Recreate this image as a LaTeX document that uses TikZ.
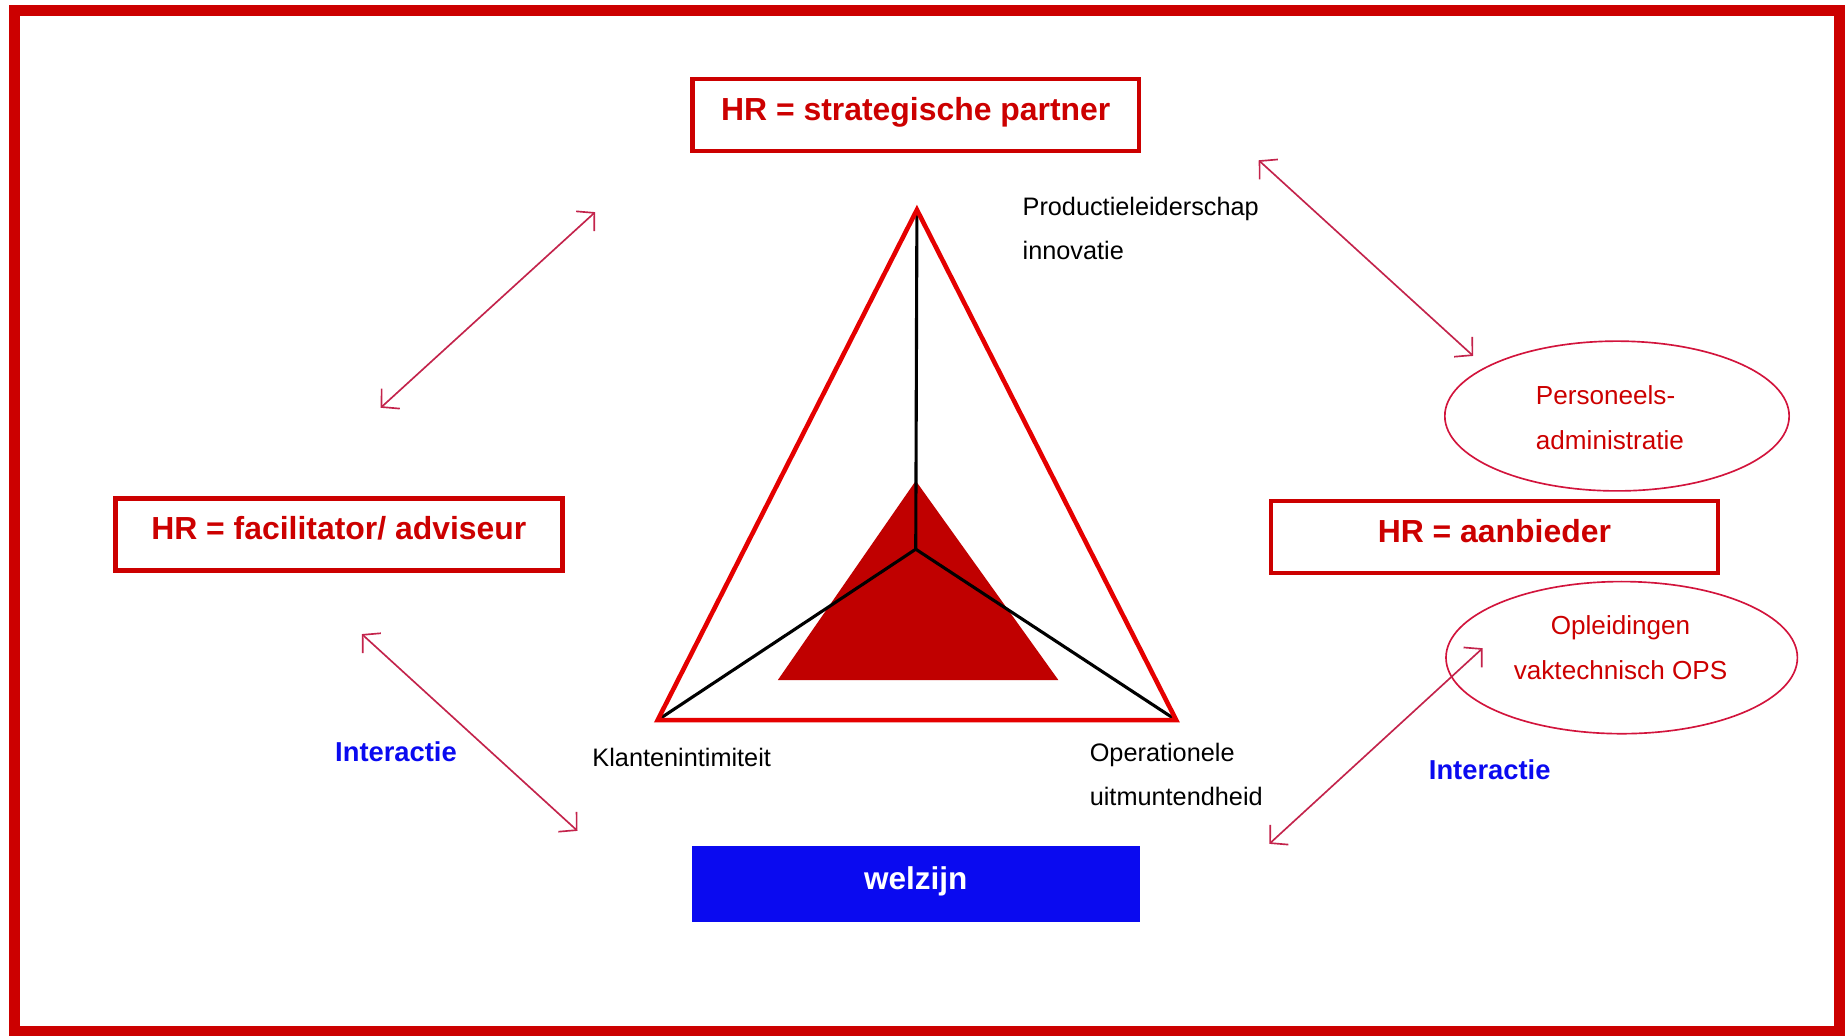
\documentclass[tikz,border=0pt]{standalone}
\usepackage{fontspec}
\setmainfont{Liberation Sans}
\usepackage{tikz}
\usetikzlibrary{arrows.meta, shapes.geometric}
\definecolor{hrred}{RGB}{204,0,0}
\definecolor{ovalred}{RGB}{210,20,60}
\definecolor{pijlrood}{RGB}{195,35,75}
\definecolor{hrblue}{RGB}{10,10,240}
\definecolor{kernrood}{RGB}{192,0,0}

\begin{document}
\begin{tikzpicture}[x=0.01cm, y=-0.01cm, >={Straight Barb[length=3pt,width=6.5pt]},
  hrbox/.style={draw=hrred, line width=1.1pt, minimum width=3.79cm, minimum height=0.61cm,
    inner sep=0pt, text=hrred, font=\fontsize{7.7}{9}\selectfont\bfseries,
    text height=5.5pt, text depth=2.9pt},
  oval/.style={ellipse, draw=ovalred, line width=0.4pt, inner sep=0pt},
  ovaltekst/.style={text=hrred, font=\fontsize{6.3}{10.8}\selectfont, inner sep=0pt},
  aslabel/.style={font=\fontsize{6.1}{10.6}\selectfont, align=left, anchor=west, inner sep=0pt},
  pijl/.style={<->, pijlrood, line width=0.4pt},
  interactie/.style={text=hrblue, font=\fontsize{6.6}{8}\selectfont\bfseries, inner sep=0pt}]
  \useasboundingbox (0,0) rectangle (1568,879);
  % Kader
  \draw[hrred, line width=2.6pt] (12.5,9) rectangle (1561,875);
  % Rollen van HR
  \node[hrbox] (strat) at (777,97.5) {HR = strategische partner};
  \node[hrbox] (facil) at (287.5,453.5) {HR = facilitator/ adviseur};
  \node[hrbox] (aanb) at (1268,455.5) {HR = aanbieder};
  % Welzijn
  \node[fill=hrblue, minimum width=3.80cm, minimum height=0.64cm, inner sep=0pt, text=white,
    font=\fontsize{7.6}{9}\selectfont\bfseries, text height=5.5pt, text depth=2.9pt]
    (welzijn) at (777,750) {welzijn};
  % Ovalen rechts
  \node[oval, minimum width=2.92cm, minimum height=1.27cm] (perso) at (1372,353) {};
  \node[ovaltekst, align=left] (persotxt) at (1366,354.5) {Personeels-\\administratie};
  \node[oval, minimum width=2.98cm, minimum height=1.29cm] (opl) at (1376,558) {};
  \node[ovaltekst, align=center] (opltxt) at (1375,549.5) {Opleidingen\\vaktechnisch OPS};
  % Driehoek: assen en kern
  \coordinate (top) at (778,178);
  \coordinate (links) at (558,611);
  \coordinate (rechts) at (998,611);
  \coordinate (midden) at (777,466);
  \fill[kernrood] (777,408) -- (660,577) -- (898,577) -- cycle;
  \draw[black, line width=0.75pt] (midden) -- (top) (midden) -- (links) (midden) -- (rechts);
  \draw[red!90!black, line width=1.1pt, line join=miter] (top) -- (links) -- (rechts) -- cycle;
  % Assen benoemd
  \node[aslabel] (prod) at (867,193.5) {Productieleiderschap\\innovatie};
  \node[aslabel] (klant) at (502,643) {Klantenintimiteit};
  \node[aslabel] (oper) at (924,657) {Operationele\\uitmuntendheid};
  % Interactie
  \node[interactie] (interL) at (336,638) {Interactie};
  \node[interactie] (interR) at (1264,653) {Interactie};
  % Pijlen
  \coordinate (p1a) at (323,346); \coordinate (p1b) at (505,180);
  \coordinate (p2a) at (1068,136); \coordinate (p2b) at (1250,302);
  \coordinate (p3a) at (307,538); \coordinate (p3b) at (490,705);
  \coordinate (p4a) at (1077,716); \coordinate (p4b) at (1258,550);
  \draw[pijl] (p1a) -- (p1b);
  \draw[pijl] (p2a) -- (p2b);
  \draw[pijl] (p3a) -- (p3b);
  \draw[pijl] (p4a) -- (p4b);
\end{tikzpicture}
\end{document}
